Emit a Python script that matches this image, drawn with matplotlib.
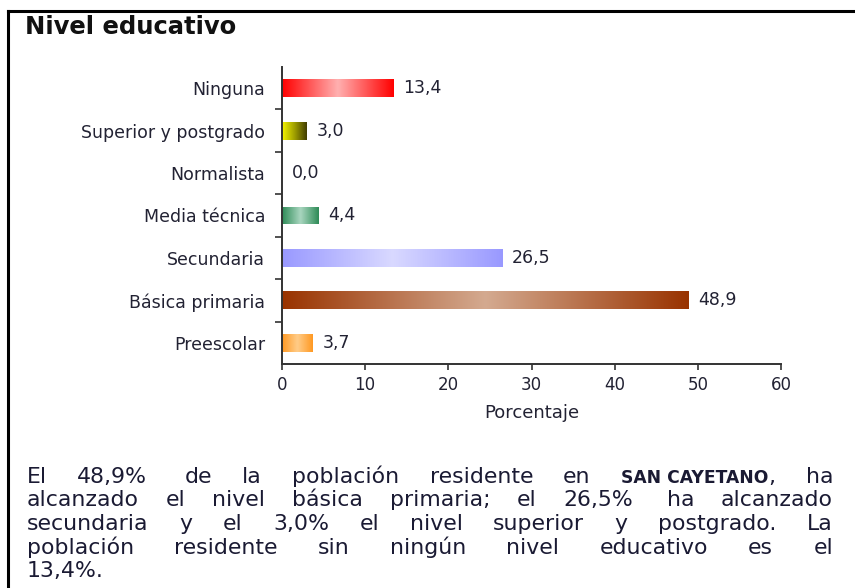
import matplotlib
matplotlib.use("Agg")
import matplotlib.pyplot as plt
import numpy as np
from matplotlib.colors import LinearSegmentedColormap
from matplotlib.lines import Line2D

categories = ["Ninguna", "Superior y postgrado", "Normalista", "Media técnica",
              "Secundaria", "Básica primaria", "Preescolar"]
values = [13.4, 3.0, 0.0, 4.4, 26.5, 48.9, 3.7]
value_labels = ["13,4", "3,0", "0,0", "4,4", "26,5", "48,9", "3,7"]
# gradient stops (left, middle, right) for each bar
gradients = [
    ["#ff0000", "#ffb0b0", "#ff0000"],
    ["#f5f500", "#a0a000", "#403c00"],
    ["#ffffff", "#ffffff", "#ffffff"],
    ["#2e8b57", "#a9d6bf", "#2e8b57"],
    ["#9999ff", "#d9d9ff", "#9999ff"],
    ["#993300", "#d4aa90", "#993300"],
    ["#ff9922", "#ffcc88", "#ff9922"],
]
xticks = [0, 10, 20, 30, 40, 50, 60]
title = "Nivel educativo"
xlabel = "Porcentaje"

# paragraph: each word is a list of (text, style); flag True = double space after
para_lines = [
    [([("El", "n")], False), ([("48,9%", "n")], True), ([("de", "n")], False),
     ([("la", "n")], False), ([("población", "n")], False), ([("residente", "n")], False),
     ([("en", "n")], False), ([("SAN CAYETANO", "b"), (",", "n")], False), ([("ha", "n")], False)],
    [([(w, "n")], w == "26,5%") for w in "alcanzado el nivel básica primaria; el 26,5% ha alcanzado".split()],
    [([(w, "n")], False) for w in "secundaria y el 3,0% el nivel superior y postgrado. La".split()],
    [([(w, "n")], False) for w in "población residente sin ningún nivel educativo es el".split()],
    [([(w, "n")], False) for w in "13,4%.".split()],
]

W, H = 855, 588
fig = plt.figure(figsize=(W / 100, H / 100), dpi=100)
fig.patch.set_facecolor("white")

ax = fig.add_axes([282 / W, 1 - 364 / H, (781 - 282) / W, (364 - 67) / H])
ypos = np.arange(len(categories))
bars = ax.barh(ypos, values, height=0.42, color="none", edgecolor="none", zorder=2)

for bar, g in zip(bars, gradients):
    w = bar.get_width()
    if w <= 0:
        continue
    cmap = LinearSegmentedColormap.from_list("g", g)
    grad = np.linspace(0, 1, 256).reshape(1, -1)
    x0, y0 = bar.get_x(), bar.get_y()
    h = bar.get_height()
    im = ax.imshow(grad, cmap=cmap, aspect="auto",
                   extent=[x0, x0 + w, y0 + h, y0], zorder=2, interpolation="bicubic")
    im.set_clip_path(bar)

ax.set_ylim(len(categories) - 0.5, -0.5)
ax.set_xlim(0, 60)

for y, v, lab in zip(ypos, values, value_labels):
    ax.annotate(lab, (v, y), xytext=(7, 0), textcoords="offset points",
                va="center", ha="left", fontsize=12.5, color="#222233")

for s in ["top", "right"]:
    ax.spines[s].set_visible(False)
for s in ["left", "bottom"]:
    ax.spines[s].set_color("#333333")
    ax.spines[s].set_linewidth(1.4)

ax.set_xticks(xticks)
ax.set_xticklabels([str(t) for t in xticks])
ax.tick_params(axis="x", length=4, width=1.2, color="#333333", pad=5,
               labelsize=12, labelcolor="#222233")
ax.set_yticks(ypos)
ax.set_yticklabels(categories)
ax.tick_params(axis="y", which="major", length=0, pad=12, labelsize=12.5,
               labelcolor="#222233")
ax.set_yticks(ypos[:-1] + 0.5, minor=True)
ax.tick_params(axis="y", which="minor", length=5, width=1.2, color="#333333")
ax.set_xlabel(xlabel, fontsize=13, color="#222233", labelpad=7)

fig.text(25 / W, 1 - 27 / H, title, fontsize=17.5, fontweight="bold",
         color="#111111", va="center", ha="left")

# border lines
fig.add_artist(Line2D([8 / W, 1.0], [1 - 11 / H, 1 - 11 / H], color="black",
                      lw=2.2, transform=fig.transFigure))
fig.add_artist(Line2D([8 / W, 8 / W], [1 - 11 / H, 0.0], color="black",
                      lw=2.2, transform=fig.transFigure))

# ---- justified paragraph, one text per word ------------------------------
fs = 15.8
sizes = {"n": fs, "b": fs * 0.78}
weights = {"n": "normal", "b": "bold"}
left_px, right_px = 27, 833
base0, dy = 483, 23.5
text_color = "#1a1a33"
fig.canvas.draw()
renderer = fig.canvas.get_renderer()


def measure(s, st="n"):
    t = fig.text(0, 0, s, fontsize=sizes[st], fontweight=weights[st])
    w = t.get_window_extent(renderer).width
    t.remove()
    return w


ws = (measure("a" + " " * 10 + "a") - measure("aa")) / 10.0

for i, words in enumerate(para_lines):
    ybase = 1 - (base0 + dy * i) / H
    last = i == len(para_lines) - 1
    seg_w = [[measure(s, st) for s, st in word] for word, _ in words]
    word_w = [sum(v) for v in seg_w]
    extras = [ws if dbl else 0 for _, dbl in words]
    n = len(words)
    if not last and n > 1:
        gap = (right_px - left_px - sum(word_w) - sum(extras[:-1])) / (n - 1)
    else:
        gap = ws
    x = left_px
    for k, ((word, _), sw, ww, ex) in enumerate(zip(words, seg_w, word_w, extras)):
        is_end = (k == n - 1) and not last and n > 1
        if is_end:
            xx = right_px - ww
        else:
            xx = x
        for (s, st), w in zip(word, sw):
            fig.text(xx / W, ybase, s, fontsize=sizes[st], fontweight=weights[st],
                     color=text_color, va="baseline", ha="left")
            xx += w
        x += ww + gap + ex

fig.savefig("out.png", dpi=100, facecolor="white")
